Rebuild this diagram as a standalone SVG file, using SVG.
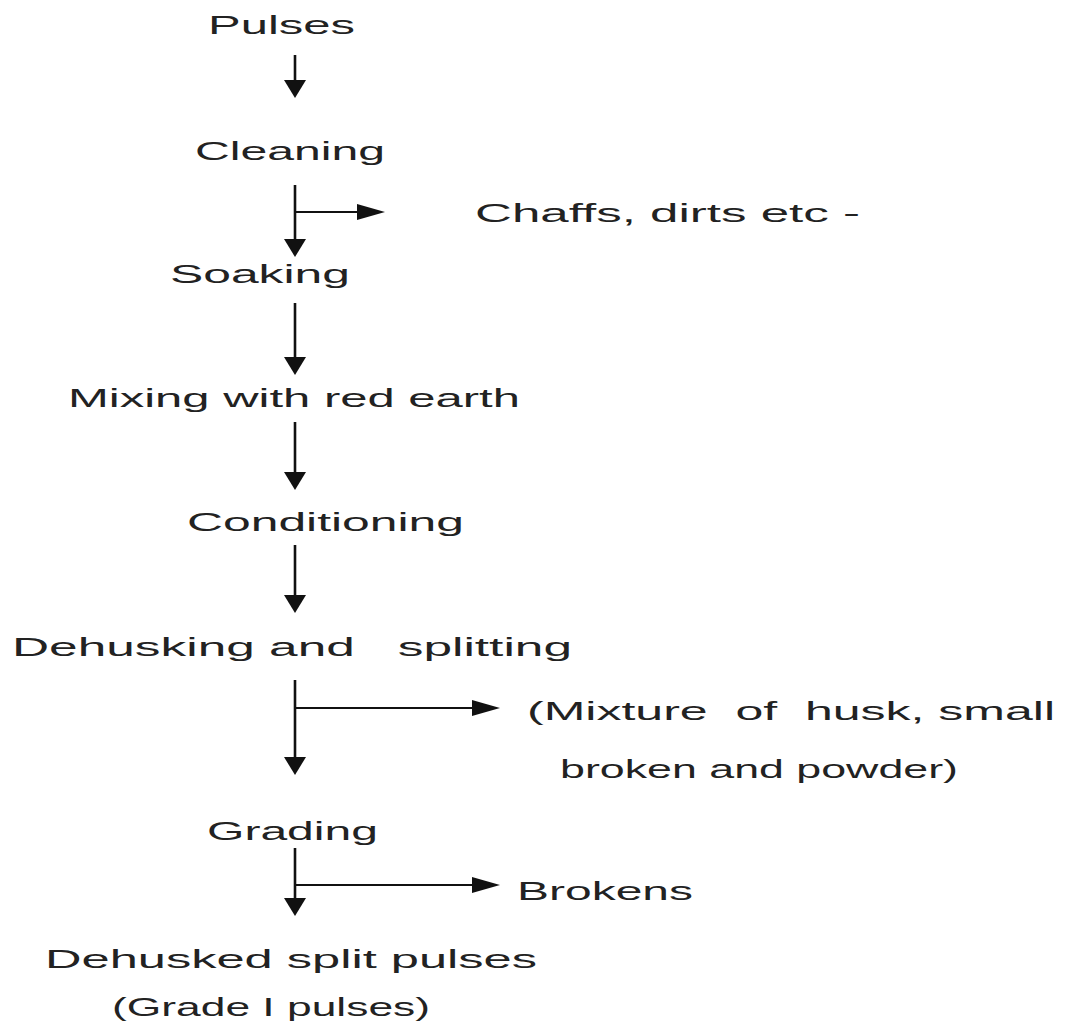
<svg xmlns="http://www.w3.org/2000/svg" width="1066" height="1032" viewBox="0 0 1066 1032">
  <defs>
    <marker id="ahV" viewBox="0 0 18 22" refX="14" refY="11" markerWidth="18" markerHeight="22" markerUnits="userSpaceOnUse" orient="auto">
      <path d="M0,0 L18,11 L0,22 Z" fill="#111"/>
    </marker>
    <marker id="ahH" viewBox="0 0 28 16" refX="24" refY="8" markerWidth="28" markerHeight="16" markerUnits="userSpaceOnUse" orient="auto">
      <path d="M0,0 L28,8 L0,16 Z" fill="#111"/>
    </marker>
  </defs>
  <style>
    text { font-family: "Liberation Sans", Arial, sans-serif; font-size: 26px; fill: #222; }
    .v { stroke: #111; stroke-width: 2.6; fill: none; marker-end: url(#ahV); }
    .h { stroke: #111; stroke-width: 2; fill: none; marker-end: url(#ahH); }
  </style>
  <rect width="1066" height="1032" fill="#fff"/>

  <g id="n-pulses"><text x="208" y="34" textLength="147" lengthAdjust="spacingAndGlyphs">Pulses</text></g>
  <g id="n-cleaning"><text x="195" y="160" textLength="190" lengthAdjust="spacingAndGlyphs">Cleaning</text></g>
  <g id="n-chaffs"><text x="475" y="222" textLength="385" lengthAdjust="spacingAndGlyphs">Chaffs, dirts etc -</text></g>
  <g id="n-soaking"><text x="170" y="283" textLength="180" lengthAdjust="spacingAndGlyphs">Soaking</text></g>
  <g id="n-mixing"><text x="68" y="407" textLength="452" lengthAdjust="spacingAndGlyphs">Mixing with red earth</text></g>
  <g id="n-conditioning"><text x="187" y="531" textLength="277" lengthAdjust="spacingAndGlyphs">Conditioning</text></g>
  <g id="n-dehusking"><text x="12" y="656" textLength="560" lengthAdjust="spacingAndGlyphs" xml:space="preserve">Dehusking and   splitting</text></g>
  <g id="n-mixture">
    <text x="527" y="720" textLength="528" lengthAdjust="spacingAndGlyphs" xml:space="preserve">(Mixture  of  husk, small</text>
    <text x="560" y="778" textLength="398" lengthAdjust="spacingAndGlyphs">broken and powder)</text>
  </g>
  <g id="n-grading"><text x="207" y="840" textLength="171" lengthAdjust="spacingAndGlyphs">Grading</text></g>
  <g id="n-brokens"><text x="517" y="900" textLength="176" lengthAdjust="spacingAndGlyphs">Brokens</text></g>
  <g id="n-final">
    <text x="45" y="968" textLength="492" lengthAdjust="spacingAndGlyphs">Dehusked split pulses</text>
    <text x="112" y="1016" textLength="318" lengthAdjust="spacingAndGlyphs">(Grade I pulses)</text>
  </g>

  <g id="connectors">
    <line class="v" x1="295" y1="55" x2="295" y2="94"/>
    <line class="v" x1="295" y1="185" x2="295" y2="253"/>
    <line class="h" x1="295" y1="212" x2="381" y2="212"/>
    <line class="v" x1="295" y1="303" x2="295" y2="371"/>
    <line class="v" x1="295" y1="422" x2="295" y2="486"/>
    <line class="v" x1="295" y1="545" x2="295" y2="609"/>
    <line class="v" x1="295" y1="680" x2="295" y2="771"/>
    <line class="h" x1="295" y1="708" x2="496" y2="708"/>
    <line class="v" x1="295" y1="848" x2="295" y2="912"/>
    <line class="h" x1="295" y1="885" x2="496" y2="885"/>
  </g>
</svg>
